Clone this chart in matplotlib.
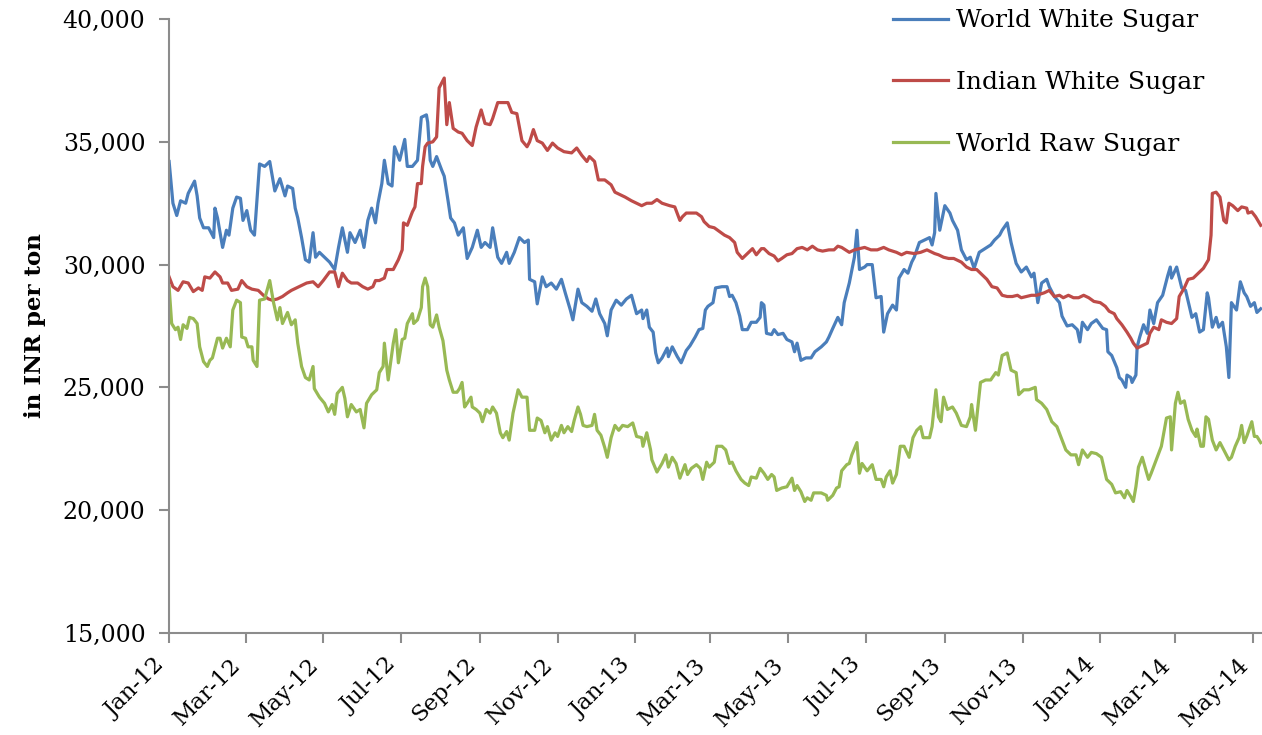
import datetime as dt
import matplotlib
matplotlib.use("Agg")
import matplotlib.pyplot as plt
import matplotlib.dates as mdates

# prices in thousand INR per ton, x = days after 1 Jan 2012
world_white_days = [0, 3, 6, 9, 13, 15, 20, 22, 24, 27, 31, 35, 36, 38, 42, 45, 47, 50, 53, 56, 58, 61, 64, 67, 71, 75, 79, 83, 87, 91, 93, 97, 99, 101, 104, 107, 110, 113, 115, 118, 122, 126, 130, 133, 136, 140, 142, 146, 150, 153, 156, 159, 162, 164, 167, 169, 172, 175,
                    177, 181, 185, 187, 191, 195, 198, 202, 203, 205, 207, 210, 214, 216, 219, 221, 224, 227, 231, 234, 238, 242, 245, 248, 252, 254, 258, 261, 265, 267, 271, 275, 279, 282, 283, 287, 289, 293, 296, 300, 304, 308, 311, 315, 317, 321, 324, 328, 332, 335, 338, 342, 344, 347, 351, 355, 359, 363,
                    367, 371, 372, 375, 377, 380, 382, 384, 387, 391, 392, 395, 399, 402, 406, 409, 413, 416, 419, 421, 423, 427, 429, 434, 438, 440, 442, 445, 448, 450, 454, 457, 461, 464, 465, 467, 469, 473, 475, 478, 482, 485, 489, 491, 493, 496, 500, 504, 507, 512, 516, 518, 521, 525, 528, 530, 534, 538, 540, 542, 546,
                    548, 552, 555, 559, 561, 564, 568, 571, 573, 577, 580, 583, 585, 589, 593, 597, 599, 601, 602, 605, 609, 613, 615, 619, 622, 626, 629, 632, 636, 642, 645, 648, 652, 654, 658, 661, 665, 669, 673, 677, 679, 682, 685, 689, 691, 695, 699, 701, 705, 709, 713, 715, 717, 721, 724, 728,
                    733, 736, 737, 740, 744, 746, 748, 751, 752, 755, 756, 759, 760, 762, 765, 768, 770, 773, 776, 780, 784, 786, 787, 791, 795, 798, 801, 803, 806, 809, 812, 815, 816, 819, 822, 824, 827, 830, 832, 834, 838, 841, 844, 846, 849, 852, 854, 857]
world_white = [34.2, 32.5, 32.0, 32.6, 32.5, 32.9, 33.4, 32.8, 31.9, 31.5, 31.5, 31.1, 32.3, 31.9, 30.7, 31.4, 31.2, 32.3, 32.75, 32.7, 31.8, 32.2, 31.4, 31.2, 34.1, 34.0, 34.2, 33.0, 33.5, 32.8, 33.2, 33.1, 32.3, 31.9, 31.1, 30.2, 30.1, 31.3, 30.3, 30.5, 30.3, 30.1, 29.8, 30.7, 31.5, 30.5, 31.3, 30.9, 31.4, 30.7, 31.8, 32.3, 31.7, 32.5, 33.3, 34.25, 33.3, 33.2,
               34.8, 34.25, 35.1, 34.0, 34.0, 34.25, 36.0, 36.1, 35.8, 34.25, 34.0, 34.4, 33.85, 33.6, 32.6, 31.9, 31.7, 31.2, 31.5, 30.25, 30.7, 31.4, 30.7, 30.9, 30.7, 31.5, 30.3, 30.05, 30.5, 30.05, 30.5, 31.1, 30.9, 31.0, 29.4, 29.3, 28.4, 29.5, 29.1, 29.25, 29.0, 29.4, 28.85, 28.15, 27.75, 29.0, 28.45, 28.3, 28.1, 28.6, 28.0, 27.6, 27.1, 28.15, 28.55, 28.35, 28.6, 28.75,
               28.0, 28.15, 27.8, 28.15, 27.45, 27.25, 26.4, 26.0, 26.2, 26.6, 26.25, 26.65, 26.25, 26.0, 26.5, 26.7, 27.05, 27.35, 27.4, 28.15, 28.3, 28.45, 29.05, 29.1, 29.1, 28.7, 28.75, 28.45, 27.9, 27.35, 27.35, 27.65, 27.65, 27.85, 28.45, 28.35, 27.2, 27.15, 27.35, 27.15, 27.2, 26.95, 26.85, 26.45, 26.8, 26.1, 26.2, 26.2, 26.45, 26.65, 26.85, 27.05, 27.4, 27.85, 27.55, 28.45, 29.25, 30.3, 31.4, 29.8, 29.9,
               30.0, 30.0, 28.65, 28.7, 27.25, 28.0, 28.35, 28.15, 29.45, 29.8, 29.65, 30.1, 30.3, 30.9, 31.0, 31.1, 30.8, 31.3, 32.9, 31.4, 32.4, 32.1, 31.8, 31.4, 30.6, 30.2, 30.3, 29.85, 30.5, 30.7, 30.8, 31.0, 31.2, 31.4, 31.7, 30.9, 30.05, 29.7, 29.9, 29.5, 29.65, 28.45, 29.25, 29.4, 29.1, 28.7, 28.45, 27.9, 27.5, 27.55, 27.35, 26.85, 27.65, 27.35, 27.6, 27.75,
               27.4, 27.35, 26.45, 26.3, 25.8, 25.4, 25.3, 25.0, 25.5, 25.4, 25.2, 25.5, 26.65, 27.05, 27.55, 27.2, 28.15, 27.6, 28.45, 28.75, 29.55, 29.9, 29.45, 29.9, 29.05, 28.95, 28.3, 27.85, 28.0, 27.25, 27.35, 28.85, 28.65, 27.45, 27.85, 27.45, 27.65, 26.65, 25.4, 28.45, 28.15, 29.3, 28.85, 28.7, 28.3, 28.45, 28.05, 28.2]

indian_white_days = [0, 3, 7, 11, 15, 19, 23, 26, 28, 32, 36, 40, 42, 46, 49, 54, 57, 61, 65, 70, 74, 78, 81, 85, 89, 93, 96, 100, 104, 108, 113, 117, 121, 126, 130, 133, 136, 140, 143, 148, 152, 156, 160, 162, 165, 169, 171, 176, 180, 183,
                     184, 187, 191, 193, 195, 198, 199, 201, 203, 207, 210, 212, 216, 218, 220, 223, 227, 230, 234, 238, 241, 245, 248, 252, 254, 258, 263, 266, 269, 273, 275, 277, 281, 283, 286, 289, 293, 297, 301, 305, 310, 316, 320, 324, 328, 330, 334, 337, 342, 347, 350, 354, 358, 363,
                     367, 371, 375, 379, 383, 387, 393, 397, 401, 403, 406, 410, 414, 418, 420, 424, 428, 432, 436, 440, 444, 446, 450, 454, 458, 461, 465, 467, 471, 475, 478, 481, 485, 489, 493, 497, 501, 505, 509, 513, 518, 522, 525, 528, 534, 538, 542, 546,
                     551, 556, 561, 565, 571, 575, 579, 585, 590, 595, 601, 604, 608, 612, 616, 622, 626, 630, 634, 638, 642, 646, 650, 654, 658, 662, 666, 669, 673, 677, 681, 687, 691, 695, 699, 702, 706, 710, 714, 718, 722, 726,
                     731, 735, 738, 742, 744, 748, 752, 755, 757, 760, 764, 768, 770, 773, 777, 779, 783, 787, 791, 793, 797, 800, 804, 808, 812, 816, 818, 819, 822, 825, 828, 830, 832, 835, 839, 842, 846, 847, 850, 853, 857]
indian_white = [29.5, 29.1, 28.95, 29.3, 29.25, 28.9, 29.05, 28.95, 29.5, 29.45, 29.7, 29.5, 29.25, 29.25, 28.95, 29.0, 29.35, 29.1, 29.0, 28.95, 28.75, 28.6, 28.55, 28.6, 28.7, 28.85, 28.95, 29.05, 29.15, 29.25, 29.3, 29.1, 29.35, 29.7, 29.7, 29.1, 29.65, 29.35, 29.25, 29.25, 29.1, 29.0, 29.1, 29.35, 29.35, 29.45, 29.8, 29.8, 30.2, 30.6,
                31.7, 31.6, 32.15, 32.35, 33.3, 33.3, 34.0, 34.8, 34.95, 35.0, 35.2, 37.2, 37.6, 35.7, 36.6, 35.55, 35.4, 35.35, 35.05, 34.85, 35.6, 36.3, 35.75, 35.7, 35.95, 36.6, 36.6, 36.6, 36.2, 36.15, 35.6, 35.05, 34.8, 35.0, 35.5, 35.05, 34.95, 34.65, 34.95, 34.75, 34.6, 34.55, 34.75, 34.45, 34.2, 34.4, 34.2, 33.45, 33.45, 33.25, 32.95, 32.85, 32.75, 32.6,
                32.5, 32.4, 32.5, 32.5, 32.65, 32.5, 32.4, 32.35, 31.8, 31.95, 32.1, 32.1, 32.1, 31.95, 31.75, 31.55, 31.5, 31.35, 31.2, 31.1, 30.9, 30.5, 30.25, 30.45, 30.65, 30.4, 30.65, 30.65, 30.45, 30.35, 30.15, 30.25, 30.4, 30.45, 30.65, 30.7, 30.6, 30.75, 30.6, 30.55, 30.6, 30.6, 30.75, 30.7, 30.5, 30.6, 30.65, 30.7,
                30.6, 30.6, 30.7, 30.6, 30.5, 30.4, 30.5, 30.45, 30.5, 30.6, 30.45, 30.4, 30.3, 30.25, 30.25, 30.1, 29.9, 29.8, 29.8, 29.6, 29.4, 29.1, 29.05, 28.75, 28.7, 28.7, 28.75, 28.65, 28.7, 28.75, 28.75, 28.85, 28.95, 28.7, 28.75, 28.65, 28.75, 28.65, 28.65, 28.75, 28.65, 28.5,
                28.45, 28.3, 28.1, 28.0, 27.8, 27.55, 27.25, 27.0, 26.8, 26.6, 26.7, 26.8, 27.2, 27.45, 27.35, 27.75, 27.65, 27.6, 27.8, 28.7, 29.05, 29.4, 29.45, 29.65, 29.85, 30.2, 31.2, 32.9, 32.95, 32.75, 31.8, 31.7, 32.5, 32.4, 32.2, 32.35, 32.3, 32.1, 32.15, 31.95, 31.6]

world_raw_days = [0, 2, 5, 7, 9, 11, 14, 16, 19, 22, 24, 27, 30, 32, 34, 38, 40, 42, 45, 48, 50, 53, 56, 57, 60, 62, 65, 66, 69, 71, 75, 79, 82, 85, 87, 89, 93, 96, 99, 101, 104, 107, 110, 113, 114, 118, 122, 125, 128, 130, 132, 136, 138, 140, 143, 147, 150, 153, 155, 159, 163, 165, 168, 169, 172, 176, 178, 180, 183, 185,
                  187, 191, 192, 195, 198, 199, 201, 203, 205, 207, 210, 212, 215, 218, 220, 223, 226, 228, 230, 232, 234, 237, 238, 241, 244, 246, 249, 252, 254, 257, 260, 262, 265, 267, 270, 274, 277, 281, 283, 287, 289, 292, 295, 297, 300, 303, 305, 308, 310, 313, 316, 318, 321, 323, 325, 328, 332, 334, 336, 339, 342, 344, 347, 350, 353, 356, 360,
                  364, 367, 371, 372, 375, 378, 379, 383, 387, 390, 392, 395, 398, 401, 405, 407, 410, 414, 417, 419, 422, 424, 428, 430, 434, 437, 440, 442, 445, 449, 452, 455, 457, 461, 464, 467, 470, 473, 475, 477, 481, 485, 489, 491, 493, 496, 499, 501, 504, 506, 512, 516, 517, 521, 524, 526, 528, 532, 534, 536, 540, 542, 544, 548,
                  552, 555, 559, 561, 563, 566, 568, 571, 574, 577, 581, 584, 587, 590, 592, 597, 599, 602, 604, 606, 608, 611, 615, 618, 622, 626, 629, 630, 633, 637, 641, 645, 649, 651, 654, 658, 661, 665, 667, 671, 675, 680, 681, 685, 689, 693, 697, 701, 704, 708, 712, 714, 717, 721, 724, 728,
                  732, 736, 740, 743, 747, 750, 752, 755, 757, 759, 761, 764, 767, 769, 771, 775, 779, 783, 786, 787, 790, 792, 794, 797, 800, 803, 806, 807, 810, 812, 814, 816, 819, 822, 825, 828, 832, 834, 837, 840, 842, 844, 846, 850, 852, 854, 857]
world_raw = [29.1, 27.6, 27.35, 27.45, 26.95, 27.55, 27.4, 27.85, 27.8, 27.6, 26.65, 26.05, 25.85, 26.1, 26.2, 27.0, 27.0, 26.6, 27.0, 26.65, 28.15, 28.55, 28.45, 27.05, 27.0, 26.65, 26.65, 26.1, 25.85, 28.55, 28.6, 29.35, 28.45, 27.75, 28.25, 27.6, 28.05, 27.55, 27.75, 26.8, 25.85, 25.4, 25.3, 25.85, 24.95, 24.6, 24.35, 24.0, 24.3, 23.9, 24.75, 25.0, 24.55, 23.8, 24.3, 24.0, 24.1, 23.35, 24.35, 24.7, 24.9, 25.6, 25.85, 26.8, 25.3, 26.8, 27.35, 26.0, 26.95, 27.0,
             27.6, 28.0, 27.6, 27.75, 28.25, 29.1, 29.45, 29.1, 27.55, 27.45, 27.95, 27.45, 26.9, 25.7, 25.3, 24.8, 24.8, 24.95, 25.2, 24.2, 24.35, 24.6, 24.2, 24.1, 23.95, 23.6, 24.1, 23.95, 24.2, 23.95, 23.15, 22.95, 23.2, 22.85, 23.95, 24.9, 24.6, 24.6, 23.25, 23.25, 23.75, 23.65, 23.15, 23.4, 22.85, 23.15, 23.0, 23.45, 23.15, 23.4, 23.2, 23.65, 24.2, 23.9, 23.45, 23.4, 23.45, 23.9, 23.25, 23.05, 22.55, 22.15, 22.95, 23.45, 23.25, 23.45, 23.4,
             23.55, 23.0, 22.95, 22.6, 23.15, 22.45, 22.05, 21.55, 21.9, 22.25, 21.75, 22.15, 21.9, 21.3, 21.85, 21.45, 21.7, 21.85, 21.7, 21.25, 21.95, 21.75, 21.95, 22.6, 22.6, 22.45, 21.9, 21.95, 21.6, 21.25, 21.1, 21.0, 21.35, 21.3, 21.7, 21.5, 21.25, 21.45, 21.35, 20.8, 20.9, 20.95, 21.3, 20.8, 21.0, 20.75, 20.35, 20.5, 20.4, 20.7, 20.7, 20.6, 20.4, 20.6, 20.9, 20.95, 21.6, 21.85, 21.9, 22.25, 22.75, 21.5, 21.9, 21.6,
             21.85, 21.25, 21.25, 20.95, 21.35, 21.6, 21.1, 21.45, 22.6, 22.6, 22.15, 22.95, 23.25, 23.4, 22.95, 22.95, 23.4, 24.9, 23.8, 23.6, 24.6, 24.1, 24.2, 23.95, 23.45, 23.4, 23.8, 24.3, 23.25, 25.2, 25.3, 25.3, 25.6, 25.5, 26.3, 26.4, 25.7, 25.6, 24.7, 24.9, 24.9, 25.0, 24.5, 24.35, 24.1, 23.6, 23.4, 22.85, 22.45, 22.25, 22.25, 21.85, 22.45, 22.15, 22.35, 22.3,
             22.15, 21.25, 21.05, 20.7, 20.75, 20.5, 20.8, 20.55, 20.35, 20.95, 21.75, 22.15, 21.6, 21.25, 21.5, 22.05, 22.6, 23.75, 23.8, 22.45, 24.35, 24.8, 24.35, 24.45, 23.7, 23.25, 23.0, 23.3, 22.6, 22.6, 23.8, 23.7, 22.85, 22.45, 22.75, 22.45, 22.05, 22.15, 22.6, 22.95, 23.45, 22.75, 23.0, 23.6, 23.0, 23.0, 22.75]

labels = ["World White Sugar", "Indian White Sugar", "World Raw Sugar"]
colors = ["#4a7ebb", "#be4b48", "#98b954"]

start = dt.datetime(2012, 1, 1)

def to_dates(days):
    return [start + dt.timedelta(days=d) for d in days]

plt.rcParams["font.family"] = ["DejaVu Serif"]

fig = plt.figure(figsize=(12.62, 7.35), dpi=100)
ax = fig.add_axes([0.134, 0.139, 0.866, 0.835])

series = [(world_white_days, world_white), (indian_white_days, indian_white), (world_raw_days, world_raw)]
for (d, v), lab, c in zip(series, labels, colors):
    ax.plot(to_dates(d), [x * 1000 for x in v], color=c, lw=2.3, label=lab)

ax.set_ylim(15000, 40000)
ax.set_yticks(range(15000, 40001, 5000))
ax.yaxis.set_major_formatter(matplotlib.ticker.FuncFormatter(lambda v, p: "{:,.0f}".format(v)))
ax.set_xlim(start, start + dt.timedelta(days=858))
ax.xaxis.set_major_locator(mdates.MonthLocator(bymonth=[1, 3, 5, 7, 9, 11]))
ax.xaxis.set_major_formatter(mdates.DateFormatter("%b-%y"))

for s in ["top", "right"]:
    ax.spines[s].set_visible(False)
for s in ["left", "bottom"]:
    ax.spines[s].set_color("#8c8c8c")
    ax.spines[s].set_linewidth(1.5)
ax.tick_params(axis="both", colors="#8c8c8c", length=7, width=1.5, labelcolor="black")
ax.tick_params(axis="y", labelsize=17, pad=10)
ax.tick_params(axis="x", labelsize=16.5, pad=8)
for lbl in ax.get_xticklabels():
    lbl.set_rotation(45)
    lbl.set_ha("right")
    lbl.set_va("top")
    lbl.set_rotation_mode("default")

ax.set_ylabel("in INR per ton", fontsize=16.5, fontweight="bold", labelpad=12)

ax.legend(loc="upper left", bbox_to_anchor=(0.690, 1.018), bbox_transform=fig.transFigure,
          frameon=False, fontsize=18, handlelength=2.2, handletextpad=0.3, labelspacing=1.55)

fig.savefig("out.png", dpi=100)
